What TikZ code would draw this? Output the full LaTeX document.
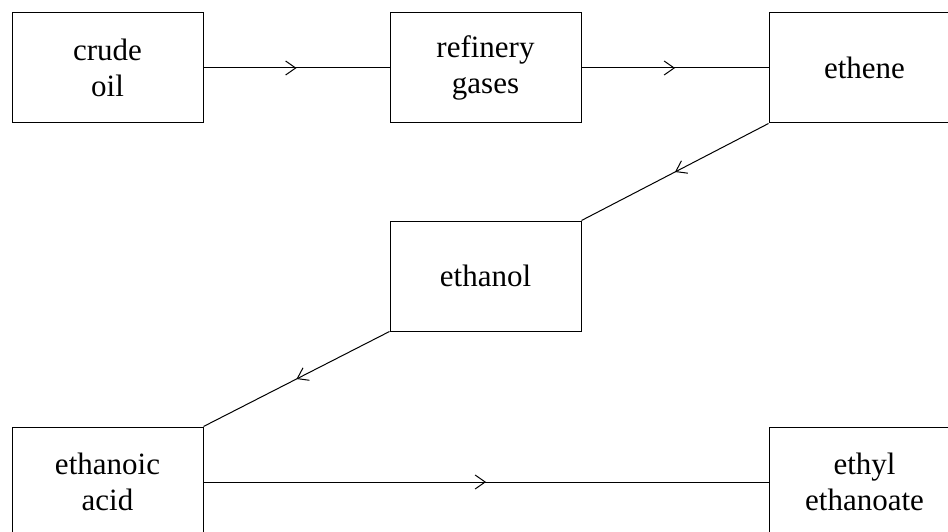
\documentclass[tikz,border=0pt]{standalone}
\usepackage{fontspec}
\setmainfont{Liberation Serif}
\usetikzlibrary{arrows.meta,decorations.markings}
\begin{document}
\begin{tikzpicture}[x=1pt,y=-1pt,
  box/.style={draw,line width=1pt,minimum width=191pt,minimum height=110pt,inner sep=0pt,align=center,
    font=\fontsize{31}{36}\selectfont},
  flow/.style={line width=1pt,postaction={decorate},decoration={markings,
    mark=at position 0.5 with {\arrow{Straight Barb[length=10pt,width=14pt,line width=1pt]}}}}]
\useasboundingbox (0,0) rectangle (948,532);
\clip (0,0) rectangle (948,532);
\node[box] (crude) at (107.5,68) {crude\\oil};
\node[box] (refinery) at (485.5,68) {refinery\\gases};
\node[box] (ethene) at (864.5,68) {ethene};
\node[box] (ethanol) at (485.5,276) {ethanol};
\node[box] (acid) at (107.5,482) {ethanoic\\acid};
\node[box] (ethyl) at (864.5,482) {ethyl\\ethanoate};
\draw[flow] (crude.east) -- (refinery.west);
\draw[flow] (refinery.east) -- (ethene.west);
\draw[flow] (ethene.south west) -- (ethanol.north east);
\draw[flow] (ethanol.south west) -- (acid.north east);
\draw[flow] (acid.east) -- (ethyl.west);
\end{tikzpicture}
\end{document}
